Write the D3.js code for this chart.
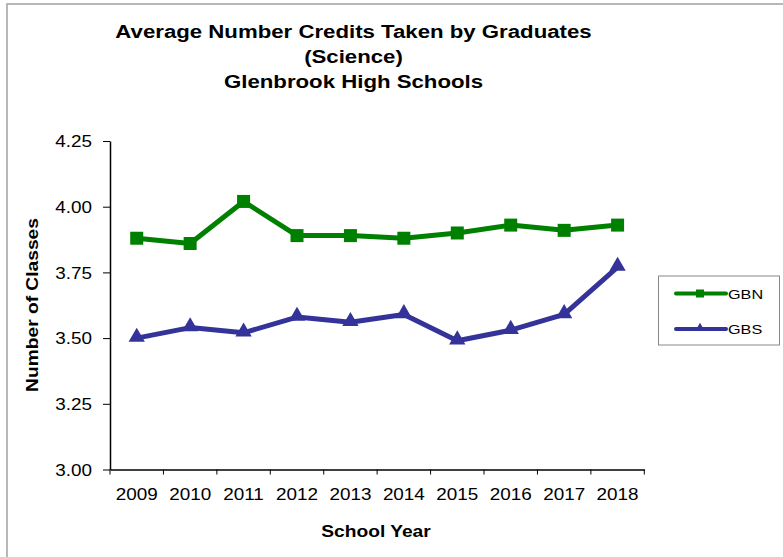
<!DOCTYPE html>
<html><head><meta charset="utf-8">
<script src="https://cdn.jsdelivr.net/npm/d3@7"></script>
<style>body{margin:0;background:#fff}svg{display:block}text{font-family:"Liberation Sans",Arial,sans-serif}</style>
</head><body>
<svg id="c" width="783" height="557"></svg>
<script>
const years = ["2009","2010","2011","2012","2013","2014","2015","2016","2017","2018"];
const gbn = [3.88,3.86,4.02,3.89,3.89,3.88,3.90,3.93,3.91,3.93];
const gbs = [3.50,3.54,3.52,3.58,3.56,3.59,3.49,3.53,3.59,3.77];
const yTicks = [3.00,3.25,3.50,3.75,4.00,4.25];
const titleLines = ["Average Number Credits Taken by Graduates","(Science)","Glenbrook High Schools"];
const seriesNames = ["GBN","GBS"];
const colors = ["#008000","#333399"];

const svg = d3.select("#c");
svg.append("rect").attr("x",7).attr("y",4).attr("width",800).attr("height",600)
  .attr("fill","none").attr("stroke","#a0a0a0").attr("stroke-width",1.5);

const x = d3.scaleBand().domain(years).range([110,644.3]);
const y = d3.scaleLinear().domain([3,4.25]).range([469.5,141]);

const yAxis = d3.axisLeft(y).tickValues(yTicks).tickFormat(d3.format(".2f")).tickSize(7).tickSizeOuter(0);
const gy = svg.append("g").attr("transform","translate(110,0)").call(yAxis);
gy.selectAll("text").attr("font-size",16).attr("fill","#000").attr("x",0).attr("dy","0.35em")
  .attr("transform","translate(-18,0) scale(1.18,1)");
gy.select(".domain").attr("stroke","#000").attr("stroke-width",1.5);
gy.selectAll(".tick line").attr("stroke","#000");

const xAxis = d3.axisBottom(x).tickSize(0).tickSizeOuter(0);
const gx = svg.append("g").attr("transform","translate(0,469.5)").call(xAxis);
gx.select(".domain").attr("stroke","#000").attr("stroke-width",1.5);
gx.selectAll("text").attr("font-size",16).attr("fill","#000").attr("dy",0).attr("y",0)
  .attr("transform","translate(0,30) scale(1.18,1)");
const bounds = years.map(d=>x(d)).concat([x(years[years.length-1])+x.bandwidth()]);
svg.append("g").selectAll("line").data(bounds).join("line")
  .attr("x1",d=>d).attr("x2",d=>d).attr("y1",469.5).attr("y2",474.5)
  .attr("stroke","#000").attr("stroke-width",1);

const cx = d=>x(d)+x.bandwidth()/2;
const line = d3.line().x((d,i)=>cx(years[i])).y(d=>y(d));
[gbn,gbs].forEach((s,k)=>{
  svg.append("path").datum(s).attr("d",line).attr("fill","none")
    .attr("stroke",colors[k]).attr("stroke-width",5).attr("stroke-linejoin","round");
});
svg.append("g").selectAll("rect").data(gbn).join("rect")
  .attr("x",(d,i)=>cx(years[i])-6.5).attr("y",d=>y(d)-6.5).attr("width",13).attr("height",13)
  .attr("fill",colors[0]);
const tri = d3.symbol().type(d3.symbolTriangle).size(115);
svg.append("g").selectAll("path").data(gbs).join("path")
  .attr("transform",(d,i)=>`translate(${cx(years[i])},${y(d)-1})`).attr("d",tri)
  .attr("fill",colors[1]);

svg.append("g").selectAll("text").data(titleLines).join("text")
  .attr("transform",(d,i)=>`translate(353.5,${38+i*25}) scale(1.17,1)`).attr("text-anchor","middle")
  .attr("font-size",19).attr("font-weight","bold").text(d=>d);
svg.append("text").attr("transform","translate(376,537) scale(1.2,1)").attr("text-anchor","middle")
  .attr("font-size",16).attr("font-weight","bold").text("School Year");
svg.append("text").attr("transform","translate(38,305) rotate(-90) scale(1.2,1)").attr("text-anchor","middle")
  .attr("font-size",16).attr("font-weight","bold").text("Number of Classes");

const lg = svg.append("g");
lg.append("rect").attr("x",658.5).attr("y",276).attr("width",121).attr("height",69)
  .attr("fill","#fff").attr("stroke","#888").attr("stroke-width",1);
seriesNames.forEach((n,k)=>{
  const ly = 293.5 + k*35.5;
  lg.append("line").attr("x1",676).attr("x2",726).attr("y1",ly).attr("y2",ly)
    .attr("stroke",colors[k]).attr("stroke-width",4).attr("stroke-linecap","round");
  if(k===0) lg.append("rect").attr("x",696).attr("y",ly-4).attr("width",8).attr("height",8).attr("fill",colors[k]);
  else lg.append("path").attr("transform",`translate(700,${ly-1})`).attr("d",d3.symbol().type(d3.symbolTriangle).size(35)).attr("fill",colors[k]);
  lg.append("text").attr("transform",`translate(728,${ly+5}) scale(1.2,1)`).attr("font-size",13.5).text(n);
});
</script>
</body></html>
